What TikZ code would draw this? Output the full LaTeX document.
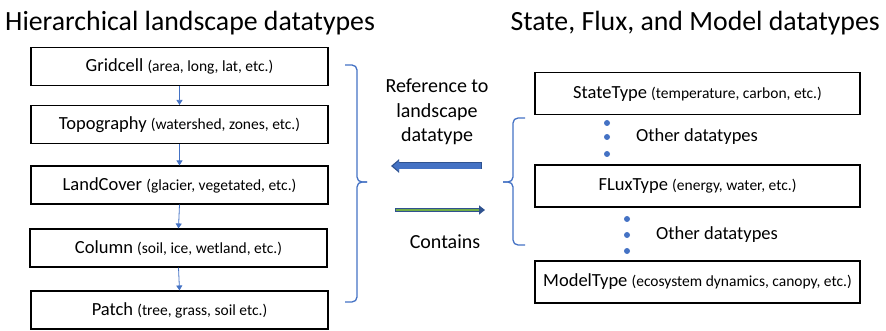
\documentclass[tikz,border=0pt]{standalone}
\usepackage{fontspec}
\setmainfont{Carlito}
\usepackage{tikz}
\usetikzlibrary{positioning}
\usetikzlibrary{arrows.meta}

\definecolor{officeblue}{HTML}{4472C4}
\definecolor{darkblue}{HTML}{2F528F}
\definecolor{officegreen}{HTML}{70AD47}

\newcommand{\titlefont}{\fontsize{27.8}{30}\selectfont}
\newcommand{\namefont}{\fontsize{18.5}{20}\selectfont}
\newcommand{\notefont}{\fontsize{15.5}{18}\selectfont}

\tikzset{
    box/.style={draw, line width=1.1pt, inner sep=0pt, align=center, font=\namefont},
    leftbox/.style={box, minimum width=297pt, minimum height=38pt},
    rightbox/.style={box, minimum width=325pt, minimum height=42pt},
    link/.style={draw=officeblue, line width=0.8pt, -{Triangle[width=6pt,length=5pt]}},
    bracket/.style={draw=officeblue, line width=1.3pt, rounded corners=5pt},
    bluedot/.style={circle, fill=officeblue, inner sep=0pt, minimum size=6pt},
    midtext/.style={align=center, font=\fontsize{20}{24.5}\selectfont}
}

\begin{document}
\begin{tikzpicture}[x=1pt,y=-1pt]
            \useasboundingbox (0,0) rectangle (886,331);

            \node[anchor=base west, font=\titlefont, inner sep=0pt] (lefttitle) at (5,31) {Hierarchical landscape datatypes};
            \node[anchor=base east, font=\titlefont, inner sep=0pt] (righttitle) at (880,31) {State, Flux, and Model datatypes};

            \node[leftbox] (gridcell) at (179.5,66.5) {Gridcell {\notefont (area, long, lat, etc.)}};
            \node[leftbox] (topography) at (179.5,124.5) {Topography {\notefont (watershed, zones, etc.)}};
            \node[leftbox] (landcover) at (179.5,185) {LandCover {\notefont (glacier, vegetated, etc.)}};
            \node[leftbox] (column) at (178.5,248) {Column {\notefont (soil, ice, wetland, etc.)}};
            \node[leftbox] (patch) at (179.5,310) {Patch {\notefont (tree, grass, soil etc.)}};

            \draw[link] (gridcell.south) -- (topography.north);
            \draw[link] (topography.south) -- (landcover.north);
            \draw[link] (landcover.south) -- (column.north);
            \draw[link] (column.south) -- (patch.north);

            \draw[bracket] (345,65) -- (357,65) -- (357,182) -- (367,182);
            \draw[bracket] (367,182) -- (357,182) -- (357,302) -- (345,302);

            \node[midtext] (reftext) at (437,112) {Reference to\\landscape\\datatype};
            \coordinate (refstart) at (482,166);
            \coordinate (refend) at (391,166);
            \draw[draw=darkblue, line width=7pt, -{Triangle[width=13pt,length=8pt]}] (refstart) -- (refend);
            \draw[draw=officeblue, line width=5.5pt, shorten <=0.7pt, shorten >=2pt, -{Triangle[width=10pt,length=6pt]}] (refstart) -- (refend);

            \coordinate (constart) at (395,210);
            \coordinate (conend) at (485,210);
            \draw[draw=darkblue, line width=4.2pt, -{Triangle[width=9pt,length=6pt]}] (constart) -- (conend);
            \draw[draw=officegreen, line width=2.8pt, shorten <=0.7pt, shorten >=6pt] (constart) -- (conend);
            \node[midtext] (contains) at (445,242) {Contains};

            \node[rightbox] (statetype) at (697.5,93.5) {StateType {\notefont (temperature, carbon, etc.)}};
            \node[rightbox] (fluxtype) at (697.5,186) {FLuxType {\notefont (energy, water, etc.)}};
            \node[rightbox] (modeltype) at (697.5,282) {ModelType {\notefont (ecosystem dynamics, canopy, etc.)}};

            \node[bluedot] (dota1) at (607,123) {};
            \node[bluedot] (dota2) at (607,137) {};
            \node[bluedot] (dota3) at (607,154) {};
            \node[font=\namefont] (othera) at (697,137) {Other datatypes};

            \node[bluedot] (dotb1) at (627,219) {};
            \node[bluedot] (dotb2) at (627,235) {};
            \node[bluedot] (dotb3) at (627,251) {};
            \node[font=\namefont] (otherb) at (717,235) {Other datatypes};

            \draw[bracket] (525,118) -- (513,118) -- (513,182) -- (503,182);
            \draw[bracket] (503,182) -- (513,182) -- (513,245) -- (525,245);
        \end{tikzpicture}
\end{document}
